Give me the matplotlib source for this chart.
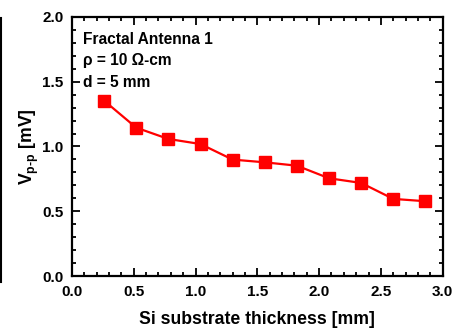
import numpy as np
import matplotlib
matplotlib.use("Agg")
import matplotlib.pyplot as plt
from matplotlib.lines import Line2D
from matplotlib.ticker import MultipleLocator

plt.rcParams['font.family'] = ['Liberation Sans', 'DejaVu Sans']
plt.rcParams['font.weight'] = 'bold'
plt.rcParams['mathtext.fontset'] = 'custom'
plt.rcParams['mathtext.rm'] = 'Liberation Sans:bold'
plt.rcParams['mathtext.bf'] = 'Liberation Sans:bold'
plt.rcParams['mathtext.it'] = 'Liberation Sans:bold'

# data
thickness = [0.26, 0.52, 0.78, 1.04, 1.30, 1.56, 1.82, 2.08, 2.34, 2.60, 2.86]
vpp = [1.353, 1.145, 1.058, 1.019, 0.899, 0.878, 0.852, 0.755, 0.719, 0.596, 0.578]
info_lines = ["Fractal Antenna 1", "\u03c1 = 10 \u03a9-cm", "d = 5 mm"]

fig = plt.figure(figsize=(4.66, 3.36), dpi=100)
ax = fig.add_axes([0.1545, 0.178, 0.7955, 0.772])

ax.plot(thickness, vpp, color='#ff0000', lw=1.6, marker='s', ms=8.5,
        mec='#ff0000', mfc='#ff0000')

ax.set_xlim(0, 3.0)
ax.set_ylim(0, 2.0)
ax.xaxis.set_major_locator(MultipleLocator(0.5))
ax.xaxis.set_minor_locator(MultipleLocator(0.1))
ax.yaxis.set_major_locator(MultipleLocator(0.5))
ax.yaxis.set_minor_locator(MultipleLocator(0.1))
ax.tick_params(which='both', direction='in', top=True, right=True,
               width=1.3, labelsize=11, pad=6)
ax.tick_params(which='major', length=6)
ax.tick_params(which='minor', length=3)
for lab in ax.get_xticklabels() + ax.get_yticklabels():
    lab.set_fontweight('bold')
for s in ax.spines.values():
    s.set_linewidth(1.6)

ax.set_xlabel("Si substrate thickness [mm]", fontsize=12.7, fontweight='bold', labelpad=9)
ax.set_ylabel(r"V$_{\text{p-p}}$ [mV]", fontsize=12.7, fontweight='bold', labelpad=1)

for i, t in enumerate(info_lines):
    ax.text(0.03, 0.914 - i * 0.083, t, transform=ax.transAxes, fontsize=11.2,
            fontweight='bold', va='center', ha='left')

# dark bar on the left edge of the image
fig.add_artist(Line2D([0.002, 0.002], [1 - 18 / 336, 1 - 282 / 336],
                      transform=fig.transFigure, color='black', lw=1.5))

fig.savefig("out.png", dpi=100)
